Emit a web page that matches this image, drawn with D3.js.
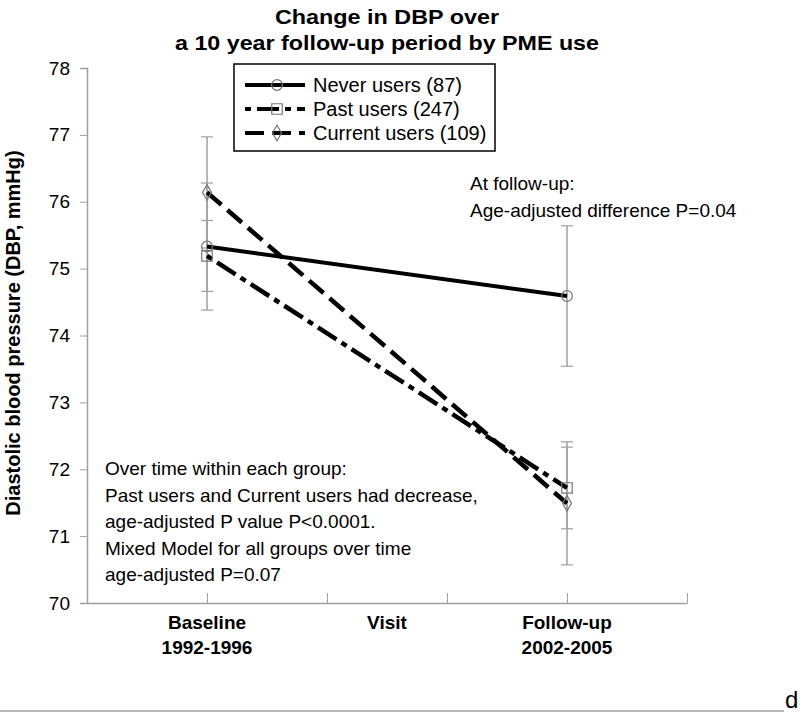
<!DOCTYPE html>
<html>
<head>
<meta charset="utf-8">
<script src="https://cdn.jsdelivr.net/npm/d3@7"></script>
<style>
  body { margin: 0; background: #fff; }
  svg { font-family: "Liberation Sans", Arial, sans-serif; }
</style>
</head>
<body>
<svg id="chart" width="800" height="713"></svg>
<script>
// data
const groups = ["Never users (87)", "Past users (247)", "Current users (109)"];
const visitX = [1, 4];
const neverMean = [75.33, 74.59];
const neverErr = [0.95, 1.05];
const pastMean = [75.19, 71.72];
const pastErr = [0.53, 0.61];
const currentMean = [76.14, 71.49];
const currentErr = [0.83, 0.92];
const yTicks = [70, 71, 72, 73, 74, 75, 76, 77, 78];
const xTicks = [1, 2, 3, 4, 5];
const visitLabels = [["Baseline", "1992-1996"], ["Follow-up", "2002-2005"]];
const titleLines = ["Change in DBP over", "a 10 year follow-up period by PME use"];
const noteRight = ["At follow-up:", "Age-adjusted difference P=0.04"];
const noteLeft = ["Over time within each group:", "Past users and Current users had decrease,",
  "age-adjusted P value P<0.0001.", "Mixed Model for all groups over time", "age-adjusted P=0.07"];

const series = [
  { name: groups[0], mean: neverMean, err: neverErr, dash: null, marker: "circle" },
  { name: groups[1], mean: pastMean, err: pastErr, dash: "6,6,22,6", marker: "square" },
  { name: groups[2], mean: currentMean, err: currentErr, dash: "19,8", marker: "diamond" }
];

const svg = d3.select("#chart");
const x = d3.scaleLinear().domain([0, 5]).range([87, 687]);
const y = d3.scaleLinear().domain([70, 78]).range([603, 68]);
const grey = "#a0a0a0";

// title
svg.append("g").selectAll("text").data(titleLines).enter().append("text")
  .attr("x", 387).attr("y", (d, i) => 24 + i * 26)
  .attr("text-anchor", "middle").style("font-weight", "bold").style("font-size", "21px")
  .attr("textLength", (d, i) => i == 0 ? 224 : 424).attr("lengthAdjust", "spacingAndGlyphs")
  .text(d => d);

// y axis
const yAxis = d3.axisLeft(y).tickValues(yTicks).tickSize(7).tickPadding(10).tickFormat(d3.format("d"));
const gy = svg.append("g").attr("transform", "translate(87,0)").call(yAxis);
gy.select(".domain").attr("stroke", grey).attr("stroke-width", 1.5);
gy.selectAll(".tick line").attr("stroke", grey);
gy.selectAll(".tick text").style("font-size", "19px").style("font-family", "Liberation Sans, Arial").attr("fill", "#000");

// x axis, ticks pointing up
const xAxis = d3.axisBottom(x).tickValues(xTicks).tickSize(-10).tickSizeOuter(0).tickFormat("");
const gx = svg.append("g").attr("transform", "translate(0,603)").call(xAxis);
gx.select(".domain").attr("stroke", grey).attr("stroke-width", 1.5);
gx.selectAll(".tick line").attr("stroke", grey);

visitLabels.forEach((lines, i) => {
  svg.append("g").selectAll("text").data(lines).enter().append("text")
    .attr("x", x(visitX[i])).attr("y", (d, j) => 629 + j * 25)
    .attr("text-anchor", "middle").style("font-weight", "bold").style("font-size", "19px")
    .text(d => d);
});
svg.append("text").attr("x", x(2.5)).attr("y", 629).attr("text-anchor", "middle")
  .style("font-weight", "bold").style("font-size", "19px").text("Visit");

// y label
svg.append("text").attr("transform", "translate(20,333) rotate(-90)")
  .attr("text-anchor", "middle").style("font-weight", "bold").style("font-size", "20px")
  .text("Diastolic blood pressure (DBP, mmHg)");

// error bars
const bars = svg.append("g");
series.forEach(s => {
  s.mean.forEach((m, i) => {
    const cx = x(visitX[i]);
    bars.append("line").attr("x1", cx).attr("x2", cx)
      .attr("y1", y(m - s.err[i])).attr("y2", y(m + s.err[i]))
      .attr("stroke", grey).attr("stroke-width", 1.5);
    [m - s.err[i], m + s.err[i]].forEach(v => {
      bars.append("line").attr("x1", cx - 6).attr("x2", cx + 6)
        .attr("y1", y(v)).attr("y2", y(v)).attr("stroke", grey).attr("stroke-width", 1.2);
    });
  });
});

// lines
const line = d3.line().x((d, i) => x(visitX[i])).y(d => y(d));
series.forEach(s => {
  svg.append("path").datum(s.mean).attr("d", line)
    .attr("fill", "none").attr("stroke", "#000").attr("stroke-width", s.dash ? 4.5 : 4)
    .attr("stroke-dasharray", s.dash);
});

// markers
function marker(g, type, cx, cy) {
  let sym;
  if (type == "circle") sym = d3.symbol(d3.symbolCircle, 90);
  else if (type == "square") sym = d3.symbol(d3.symbolSquare, 110);
  else sym = d3.symbol(d3.symbolDiamond, 70);
  g.append("path").attr("d", sym).attr("transform", `translate(${cx},${cy})`)
    .attr("fill", "none").attr("stroke", "#777").attr("stroke-width", 1.2);
}
series.forEach(s => {
  s.mean.forEach((m, i) => marker(svg, s.marker, x(visitX[i]), y(m)));
});

// legend
const leg = svg.append("g");
leg.append("rect").attr("x", 234).attr("y", 64).attr("width", 261).attr("height", 87)
  .attr("fill", "#fff").attr("stroke", "#000").attr("stroke-width", 1.5);
series.forEach((s, i) => {
  const ly = 85 + i * 24;
  leg.append("line").attr("x1", 245).attr("x2", 305).attr("y1", ly).attr("y2", ly)
    .attr("stroke", "#000").attr("stroke-width", 4).attr("stroke-dasharray", s.dash);
  marker(leg, s.marker, 277, ly);
  leg.append("text").attr("x", 313).attr("y", ly + 7).style("font-size", "20px").text(s.name);
});

// notes
svg.append("g").selectAll("text").data(noteRight).enter().append("text")
  .attr("x", 470).attr("y", (d, i) => 190 + i * 27).style("font-size", "19px").text(d => d);
svg.append("g").selectAll("text").data(noteLeft).enter().append("text")
  .attr("x", 105).attr("y", (d, i) => 475 + i * 26.5).style("font-size", "19px").text(d => d);

// page footer
svg.append("line").attr("x1", 0).attr("x2", 784).attr("y1", 711).attr("y2", 711)
  .attr("stroke", grey).attr("stroke-width", 1.5);
svg.append("text").attr("x", 785).attr("y", 708).style("font-size", "24px").text("d");
</script>
</body>
</html>
